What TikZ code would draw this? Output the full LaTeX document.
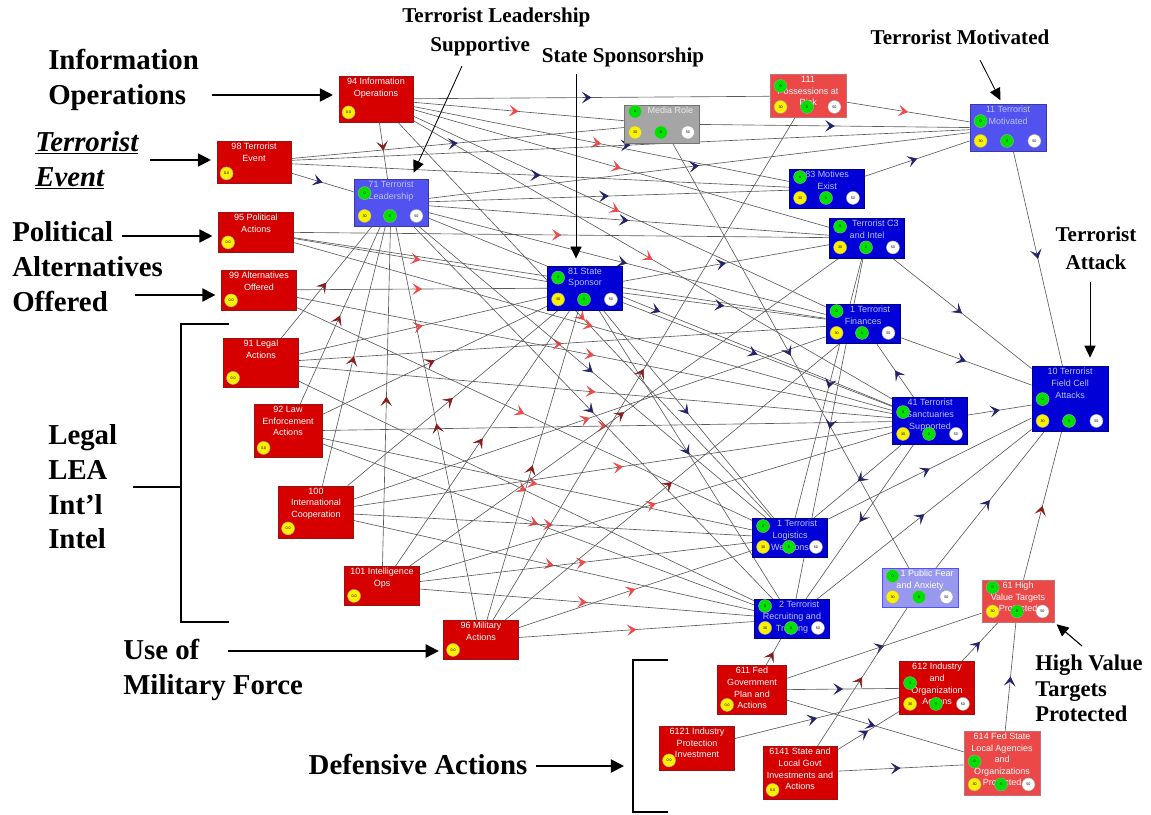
\documentclass[tikz,border=0pt]{standalone}
\usepackage{fontspec}
\setmainfont{Liberation Serif}
\setsansfont{Liberation Sans}
\usetikzlibrary{arrows.meta,positioning,calc,backgrounds,decorations.markings}
\definecolor{polred}{RGB}{214,0,0}
\definecolor{polredline}{RGB}{150,20,20}
\definecolor{litered}{RGB}{236,72,72}
\definecolor{mediagray}{RGB}{165,165,165}
\definecolor{midblue}{RGB}{82,82,240}
\definecolor{darkblue}{RGB}{0,0,215}
\definecolor{fearblue}{RGB}{152,152,238}
\definecolor{paleblue}{RGB}{185,195,255}
\definecolor{linkgray}{RGB}{90,90,90}
\definecolor{headred}{RGB}{240,72,72}
\definecolor{headnavy}{RGB}{35,35,105}
\definecolor{headmaroon}{RGB}{135,30,30}
\definecolor{dotyellow}{RGB}{250,240,0}
\definecolor{dotgreen}{RGB}{0,225,0}
\newcommand{\pxu}{0.025cm}
\newcommand{\boxfont}{\sffamily\fontsize{6.4}{8.2}\selectfont}
\newcommand{\dotfont}{\sffamily\fontsize{2.6}{3}\selectfont}
\tikzset{
  polbox/.style={draw=polredline,fill=polred,line width=0.6pt,inner sep=0pt},
  polbox txt/.style={text=white,font=\boxfont,align=center,inner sep=1.5pt},
  litebox/.style={polbox,draw=polredline!60,fill=litered},
  litebox txt/.style={polbox txt},
  mediabox/.style={polbox,draw=black!55,fill=mediagray},
  mediabox txt/.style={polbox txt,text=white!92!black},
  midbox/.style={polbox,draw=black!30!midblue,fill=midblue},
  midbox txt/.style={polbox txt,text=paleblue},
  darkbox/.style={polbox,draw=black!40!darkblue,fill=darkblue},
  darkbox txt/.style={polbox txt,text=paleblue},
  fearbox/.style={polbox,draw=midblue,fill=fearblue},
  fearbox txt/.style={polbox txt},
  ydot/.style={circle,fill=dotyellow,draw=black!35,line width=0.3pt,minimum size=13*\pxu,inner sep=0pt,font=\dotfont},
  gdot/.style={ydot,fill=dotgreen},
  wdot/.style={ydot,fill=white},
  link/.style={draw=linkgray,line width=0.45pt,
    postaction={decorate,decoration={markings,mark=at position 0.5 with
      {\arrow{Stealth[length=2.4mm,width=2.9mm,inset=1.1mm,color=#1]}}}}},
  callout/.style={-{Triangle[length=3.3mm,width=3.3mm]},line width=1.4pt},
  pointer/.style={-{Triangle[length=3mm,width=2.8mm]},line width=0.6pt},
  bracketline/.style={line width=1.5pt},
  biglabel/.style={font=\fontsize{20.5}{24.8}\selectfont\bfseries,align=left,inner sep=0pt},
  midlabel/.style={font=\fontsize{15}{20}\selectfont\bfseries,align=center,inner sep=0pt}
}
% policy box: style, name, x, y, width, height, text
\newcommand{\polnode}[7][polbox]{%
  \node[#1,minimum width=#5*\pxu,minimum height=#6*\pxu] (#2) at (#3,#4) {};
  \node[#1 txt,anchor=north] (#2-t) at (#2.north) {#7};
  \node[ydot] (#2-y) at ([shift={(10,-10)}]#2.south west) {0.0};
}
% factor box: style, name, x, y, width, height, top dot offset, text
\newcommand{\facnode}[8][darkbox]{%
  \node[#1,minimum width=#5*\pxu,minimum height=#6*\pxu] (#2) at (#3,#4) {};
  \node[#1 txt,anchor=north] (#2-t) at (#2.north) {#8};
  \node[gdot] (#2-g) at ([shift={(11,#7)}]#2.north west) {0};
  \node[ydot] (#2-y) at ([shift={(11,-11)}]#2.south west) {30};
  \node[gdot] (#2-m) at ([shift={(-1,-11)}]#2.south) {0};
  \node[wdot] (#2-w) at ([shift={(-12,-11)}]#2.south east) {50};
}

\begin{document}
\begin{tikzpicture}[x=\pxu,y=-\pxu]
  \useasboundingbox (0,0) rectangle (1151,815);

  % policy actions
  \polnode{io}{376}{99}{74}{46}{94 Information\\Operations}
  \polnode{te}{254}{162}{74}{42}{98 Terrorist\\Event}
  \polnode{pa}{256}{232}{75}{40}{95 Political\\Actions}
  \polnode{ao}{259}{290}{75}{40}{99 Alternatives\\Offered}
  \polnode{la}{261}{363}{75}{49}{91 Legal\\Actions}
  \polnode{le}{288}{431}{68}{53}{92 Law\\Enforcement\\Actions}
  \polnode{ic}{316}{512}{75}{52}{100\\International\\Cooperation}
  \polnode{iops}{382}{586}{75}{39}{101 Intelligence\\Ops}
  \polnode{ma}{481}{640}{75}{39}{96 Military\\Actions}
  \polnode{fg}{752}{690}{69}{49}{611 Fed\\Government\\Plan and\\Actions}
  \polnode{ip}{697}{748}{75}{44}{6121 Industry\\Protection\\Investment}
  \polnode{sl}{800}{773}{74}{53}{6141 State and\\Local Govt\\Investments and\\Actions}

  % terrorist factors
  \facnode[litebox]{pr}{808}{96}{76}{43}{12}{111\\Possessions at\\Risk}
  \facnode[mediabox]{mr}{662}{124}{75}{38}{7}{\hspace*{12pt}Media Role}
  \facnode[midbox]{tm}{1008}{128}{76}{47}{17}{11 Terrorist\\Motivated}
  \facnode[midbox]{tl}{391}{203}{74}{47}{14}{71 Terrorist\\Leadership}
  \facnode{me}{827}{189}{75}{39}{8}{83 Motives\\Exist}
  \facnode{c3}{867}{238}{75}{40}{9}{\hspace*{12pt}Terrorist C3\\and Intel}
  \facnode{ss}{585}{288}{75}{44}{12}{81 State\\Sponsor}
  \facnode{tf}{863}{324}{74}{39}{7}{\hspace*{10pt}1 Terrorist\\Finances}
  \facnode{fc}{1070}{399}{76}{65}{33}{10 Terrorist\\Field Cell\\Attacks}
  \facnode{sa}{930}{421}{75}{47}{15}{41 Terrorist\\Sanctuaries\\Supported}
  \facnode{lw}{790}{538}{75}{39}{8}{\hspace*{10pt}1 Terrorist\\Logistics\\Weapons}
  \facnode{rt}{792}{619}{75}{39}{7}{\hspace*{10pt}2 Terrorist\\Recruiting and\\Training}
  \facnode[fearbox]{pf}{920}{588}{76}{39}{8}{\hspace*{10pt}1 Public Fear\\and Anxiety}
  \facnode[litebox]{hv}{1018}{601}{72}{42}{8}{61 High\\Value Targets\\Protected}
  \facnode[polbox]{oa}{937}{688}{75}{53}{22}{612 Industry\\and\\Organization\\Actions}
  \facnode[litebox]{fs}{1002}{763}{76}{64}{31}{614 Fed State\\Local Agencies\\and\\Organizations\\Protected}

  % influence links
  \begin{pgfonlayer}{background}
    \foreach \a/\b/\c in {
      io/pr/headnavy, io/mr/headred, io/me/headred, io/c3/headred, io/tl/headmaroon,
      io/tf/headred, io/sa/headred, io/lw/headred,
      te/tl/headnavy, te/mr/headnavy, te/me/headnavy, te/tm/headnavy,
      pa/c3/headred, pa/ss/headred, pa/sa/headred, pa/tf/headred,
      ao/ss/headred, ao/sa/headred, ao/lw/headred,
      la/ss/headred, la/tf/headred, la/sa/headred, la/rt/headred, la/tl/headmaroon,
      le/tl/headmaroon, le/ss/headmaroon, le/sa/headred, le/lw/headred, le/rt/headred,
      ic/tl/headmaroon, ic/ss/headmaroon, ic/tf/headred, ic/sa/headred, ic/lw/headred, ic/rt/headred,
      iops/tl/headmaroon, iops/ss/headmaroon, iops/c3/headmaroon, iops/sa/headred,
      iops/lw/headred, iops/rt/headred,
      ma/tl/headmaroon, ma/ss/headmaroon, ma/tf/headmaroon, ma/lw/headred, ma/rt/headred,
      ma/pr/headmaroon,
      tl/tm/headnavy, tl/me/headnavy, tl/c3/headnavy, tl/tf/headnavy, tl/sa/headnavy,
      tl/lw/headnavy, tl/rt/headnavy,
      ss/tf/headnavy, ss/sa/headnavy, ss/lw/headnavy, ss/rt/headnavy, ss/c3/headnavy,
      me/tm/headnavy, pr/tm/headred, mr/tm/headnavy, mr/pf/headnavy,
      tm/fc/headnavy, c3/fc/headnavy, tf/fc/headnavy, sa/tf/headnavy, sa/fc/headnavy,
      sa/lw/headnavy, sa/rt/headnavy, lw/fc/headnavy, rt/fc/headnavy, pf/fc/headnavy,
      hv/fc/headmaroon, c3/lw/headnavy, c3/rt/headnavy,
      fg/rt/headmaroon, fg/hv/headnavy, fg/oa/headnavy, fg/fs/headnavy,
      ip/oa/headnavy, sl/pf/headmaroon, sl/oa/headnavy, sl/fs/headnavy,
      oa/hv/headnavy, fs/hv/headnavy}
      \draw[link=\c] (\a) -- (\b);
  \end{pgfonlayer}

  % annotations
  \node[biglabel,anchor=north west] (lab-io) at (48,49) {Information\\Operations};
  \node[biglabel,anchor=north west] (lab-te) at (35,131) {\itshape\underline{Terrorist}\\\itshape\underline{Event}};
  \node[biglabel,anchor=north west] (lab-pa) at (12,221) {Political\\Alternatives\\Offered};
  \node[biglabel,anchor=north west] (lab-li) at (48,424) {Legal\\LEA\\Int’l\\Intel};
  \node[biglabel,anchor=north west] (lab-mf) at (123,639) {Use of\\Military Force};
  \node[biglabel] (lab-da) at (418,764) {Defensive Actions};
  \node[midlabel,font=\fontsize{16}{18}\selectfont\bfseries,align=left,anchor=north west] (lab-hv) at (1035,655) {High Value\\Targets\\Protected};
  \node[midlabel,align=left,anchor=north west] (lab-tl) at (402,8) {Terrorist Leadership\\\hspace*{20pt}Supportive};
  \node[midlabel] (lab-ss) at (623,57) {State Sponsorship};
  \node[midlabel] (lab-tm) at (960,37) {Terrorist Motivated};
  \node[midlabel] (lab-ta) at (1096,248) {Terrorist\\Attack};

  \coordinate (io-tail) at (212,95);
  \coordinate (te-tail) at (150,160);
  \coordinate (pa-tail) at (122,236);
  \coordinate (ao-tail) at (135,295);
  \coordinate (mf-tail) at (228,651);
  \coordinate (da-tail) at (536,766);
  \coordinate (da-tip) at (624,766);
  \coordinate (tl-tail) at (462,66);
  \coordinate (ss-tail) at (576,74);
  \coordinate (tm-tail) at (980,60);
  \coordinate (ta-tail) at (1090,282);
  \coordinate (hv-tail) at (1082,646);
  \coordinate (li-tail) at (133,487);

  \draw[callout,shorten >=4pt] (io-tail) -- (io-tail -| io.west);
  \draw[callout,shorten >=4pt] (te-tail) -- (te-tail -| te.west);
  \draw[callout,shorten >=4pt] (pa-tail) -- (pa-tail -| pa.west);
  \draw[callout,shorten >=4pt] (ao-tail) -- (ao-tail -| ao.west);
  \draw[callout,shorten >=3pt] (mf-tail) -- (mf-tail -| ma.west);
  \draw[callout] (da-tail) -- (da-tip);
  \draw[pointer,shorten >=5pt] (tl-tail) -- ([xshift=14pt]tl.north);
  \draw[pointer,shorten >=5pt] (ss-tail) -- (ss-tail |- ss.north);
  \draw[pointer,shorten >=3pt] (tm-tail) -- ([xshift=-4pt]tm.north);
  \draw[pointer,shorten >=6pt] (ta-tail) -- (ta-tail |- fc.north);
  \draw[pointer,line width=0.8pt,shorten >=2pt] (hv-tail) -- (hv.south east);

  % brackets
  \draw[bracketline] (229,324) -- (181,324) -- (181,622) -- (229,622);
  \draw[bracketline] (li-tail) -- (181,487);
  \draw[bracketline] (668,660) -- (633,660) -- (633,812) -- (668,812);
\end{tikzpicture}
\end{document}
